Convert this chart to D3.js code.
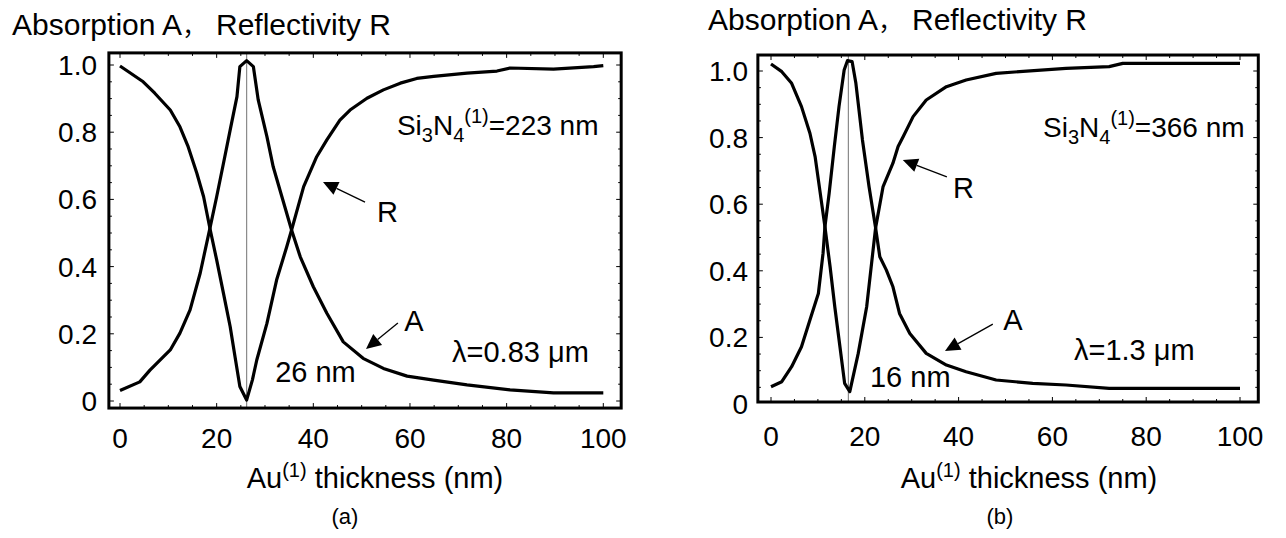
<!DOCTYPE html>
<html>
<head>
<meta charset="utf-8">
<script src="https://cdn.jsdelivr.net/npm/d3@7"></script>
<style>
  html, body { margin: 0; padding: 0; background: #fff; }
  svg { display: block; }
  text { font-family: "Liberation Sans", Arial, sans-serif; fill: #000; }
</style>
</head>
<body>
<svg id="chart" width="1286" height="538"></svg>
<script>
// ---------- data ----------
const xTicks = [0, 20, 40, 60, 80, 100];
const yTicks = [0, 0.2, 0.4, 0.6, 0.8, 1.0];
const yTickLabels = ["0", "0.2", "0.4", "0.6", "0.8", "1.0"];
const xTickLabels = ["0", "20", "40", "60", "80", "100"];

// panel (a): lambda = 0.83 um, Si3N4 = 223 nm
const thickRa = [0, 4.8, 7.2, 10.4, 12.4, 14.1, 15.9, 17.3, 18.6, 20, 21.4, 22.8, 23.8, 24.8, 26.2, 27.4, 28.3, 30.4, 32.4, 34.5, 35.5, 38, 40.7, 42.8, 45.5, 47.6, 51.1, 54.5, 58, 61.4, 64.9, 71.8, 78, 80.7, 89.7, 98, 100];
const reflA   = [0.997, 0.95, 0.916, 0.866, 0.816, 0.757, 0.678, 0.608, 0.514, 0.42, 0.321, 0.221, 0.132, 0.043, 0.003, 0.063, 0.122, 0.231, 0.36, 0.459, 0.509, 0.638, 0.727, 0.777, 0.836, 0.866, 0.901, 0.926, 0.946, 0.96, 0.966, 0.976, 0.982, 0.991, 0.988, 0.995, 0.998];
const thickAa = [0, 4.1, 6.2, 10.4, 12.4, 14.5, 16.6, 18.6, 20, 21.4, 22.8, 24.2, 24.8, 26.2, 27.6, 28.6, 30.4, 31.7, 33.5, 35.5, 37.3, 40, 42.8, 46.2, 50.3, 54.5, 59.4, 64.9, 71.8, 80.7, 89.7, 100];
const absA    = [0.031, 0.057, 0.092, 0.152, 0.202, 0.271, 0.381, 0.514, 0.608, 0.707, 0.807, 0.906, 0.995, 1.013, 0.995, 0.896, 0.787, 0.697, 0.608, 0.509, 0.429, 0.34, 0.261, 0.176, 0.127, 0.097, 0.074, 0.062, 0.048, 0.033, 0.024, 0.024];

// panel (b): lambda = 1.3 um, Si3N4 = 366 nm
const thickRb = [0, 2.3, 4.4, 6.5, 8.3, 9.4, 10.4, 11.5, 12.6, 13.6, 14.7, 15.7, 16.8, 18.6, 20.4, 22.3, 23.9, 26, 27.1, 28.2, 30.3, 33.1, 37.4, 41.6, 48, 62.9, 72.1, 75, 100];
const reflB   = [1.021, 0.998, 0.963, 0.893, 0.813, 0.743, 0.643, 0.532, 0.412, 0.292, 0.172, 0.062, 0.037, 0.152, 0.292, 0.529, 0.653, 0.723, 0.773, 0.803, 0.863, 0.913, 0.953, 0.973, 0.993, 1.008, 1.013, 1.023, 1.023];
const thickAb = [0, 2.3, 4.4, 6.5, 8.3, 10.1, 11.1, 11.5, 12.4, 13.5, 14.5, 15.6, 16.3, 17.3, 18.1, 19.5, 20.9, 22.3, 23.2, 24.6, 26, 27.4, 29.6, 33.1, 37.4, 41.6, 48, 55.8, 62.9, 72.1, 100];
const absB    = [0.052, 0.067, 0.112, 0.172, 0.252, 0.332, 0.453, 0.532, 0.633, 0.773, 0.893, 1.003, 1.031, 1.028, 0.963, 0.793, 0.653, 0.529, 0.442, 0.402, 0.352, 0.272, 0.212, 0.152, 0.117, 0.097, 0.072, 0.062, 0.057, 0.047, 0.047];

// ---------- layout ----------
const panels = [
  {
    xr: [120, 603.3], yr: [401, 65],
    frameX: [-2.3, 103.7], frameY: [-0.021, 1.036],
    peak: 26.2,
    R: {x: thickRa, y: reflA}, A: {x: thickAa, y: absA},
    title: {x: 12, y: 35, x2: 216},
    yLabelX: 97, xLabelY: 448,
    axisTitle: {x: 375, y: 488}, tag: {text: "(a)", x: 345, y: 524},
    si: {x: 57.3, y: 0.792, val: "=223 nm"},
    lam: {x: 68.7, y: 0.116, text: "λ=0.83 μm"},
    nm: {x: 32.1, y: 0.057, text: "26 nm"},
    rLab: {x: 53.2, y: 0.533}, rArrow: [[50.7, 0.592], [42.0, 0.652]],
    aLab: {x: 58.8, y: 0.208}, aArrow: [[57.5, 0.232], [50.9, 0.155]]
  },
  {
    xr: [771, 1240], yr: [404, 71],
    frameX: [-2.8, 103.9], frameY: [0.006, 1.048],
    peak: 16.5,
    R: {x: thickRb, y: reflB}, A: {x: thickAb, y: absB},
    title: {x: 708, y: 30, x2: 912},
    yLabelX: 748, xLabelY: 446,
    axisTitle: {x: 1029, y: 488}, tag: {text: "(b)", x: 1000, y: 524},
    si: {x: 58, y: 0.802, val: "=366 nm"},
    lam: {x: 64.6, y: 0.132, text: "λ=1.3 μm"},
    nm: {x: 21.1, y: 0.051, text: "16 nm"},
    rLab: {x: 38.8, y: 0.619}, rArrow: [[37.5, 0.682], [28.1, 0.733]],
    aLab: {x: 49.5, y: 0.222}, aArrow: [[47.3, 0.24], [37.1, 0.159]]
  }
];

const svg = d3.select("#chart");
const FS = 29;

function arrow(g, x, y, from, to) {
  const x1 = x(from[0]), y1 = y(from[1]), x2 = x(to[0]), y2 = y(to[1]);
  const ang = Math.atan2(y2 - y1, x2 - x1);
  const L = 15, W = 7;
  const bx = x2 - L * Math.cos(ang), by = y2 - L * Math.sin(ang);
  g.append("line").attr("x1", x1).attr("y1", y1).attr("x2", bx).attr("y2", by)
    .attr("stroke", "#000").attr("stroke-width", 1.3);
  const px = -Math.sin(ang) * W, py = Math.cos(ang) * W;
  g.append("path")
    .attr("d", `M${x2},${y2}L${bx + px},${by + py}L${bx - px},${by - py}Z`)
    .attr("fill", "#000");
}

panels.forEach(p => {
  const x = d3.scaleLinear().domain([0, 100]).range(p.xr);
  const y = d3.scaleLinear().domain([0, 1]).range(p.yr);
  const g = svg.append("g");

  const fx0 = x(p.frameX[0]), fx1 = x(p.frameX[1]);
  const fy0 = y(p.frameY[1]), fy1 = y(p.frameY[0]);

  // small tick marks inside frame
  const tickG = g.append("g").attr("stroke", "#000").attr("stroke-width", 1);
  d3.range(0, 101, 5).forEach(v => {
    const len = v % 20 === 0 ? 5 : 3;
    tickG.append("line").attr("x1", x(v)).attr("x2", x(v)).attr("y1", fy1).attr("y2", fy1 - len);
    tickG.append("line").attr("x1", x(v)).attr("x2", x(v)).attr("y1", fy0).attr("y2", fy0 + len);
  });
  d3.range(0, 21).map(i => i * 0.05).forEach((v, i) => {
    if (y(v) < fy0 + 2 || y(v) > fy1 - 2) return;
    const len = i % 4 === 0 ? 5 : 3;
    tickG.append("line").attr("y1", y(v)).attr("y2", y(v)).attr("x1", fx0).attr("x2", fx0 + len);
    tickG.append("line").attr("y1", y(v)).attr("y2", y(v)).attr("x1", fx1).attr("x2", fx1 - len);
  });

  // vertical marker at the absorption peak
  g.append("line").attr("x1", x(p.peak)).attr("x2", x(p.peak))
    .attr("y1", fy0).attr("y2", fy1).attr("stroke", "#8a8a8a").attr("stroke-width", 1.2);

  // curves
  const line = d3.line().x(d => x(d[0])).y(d => y(d[1]));
  [p.R, p.A].forEach(s => {
    g.append("path").datum(s.x.map((v, i) => [v, s.y[i]]))
      .attr("d", line).attr("fill", "none").attr("stroke", "#000")
      .attr("stroke-width", 3.2).attr("stroke-linejoin", "round");
  });

  // frame
  g.append("rect").attr("x", fx0).attr("y", fy0)
    .attr("width", fx1 - fx0).attr("height", fy1 - fy0)
    .attr("fill", "none").attr("stroke", "#000").attr("stroke-width", 3);

  // y tick labels
  yTicks.forEach((v, i) => {
    g.append("text").attr("x", p.yLabelX).attr("y", y(v))
      .attr("dy", "0.36em").attr("text-anchor", "end")
      .attr("font-size", 28).text(yTickLabels[i]);
  });
  // x tick labels
  xTicks.forEach((v, i) => {
    g.append("text").attr("x", x(v)).attr("y", p.xLabelY)
      .attr("text-anchor", "middle").attr("font-size", 28).text(xTickLabels[i]);
  });

  // axis title
  const at = g.append("text").attr("x", p.axisTitle.x).attr("y", p.axisTitle.y)
    .attr("text-anchor", "middle").attr("font-size", FS);
  at.append("tspan").text("Au");
  at.append("tspan").attr("font-size", 20).attr("dy", -11).text("(1)");
  at.append("tspan").attr("dy", 11).text(" thickness (nm)");

  // tag
  g.append("text").attr("x", p.tag.x).attr("y", p.tag.y)
    .attr("text-anchor", "middle").attr("font-size", 22).text(p.tag.text);

  // top title
  const tt = g.append("text").attr("x", p.title.x).attr("y", p.title.y).attr("font-size", 30);
  tt.append("tspan").text("Absorption A");
  tt.append("tspan").attr("font-size", 24)
    .style("font-family", "'Noto Sans CJK SC', sans-serif").text("，");
  tt.append("tspan").attr("x", p.title.x2).text("Reflectivity R");

  // Si3N4 annotation
  const si = g.append("text").attr("x", x(p.si.x)).attr("y", y(p.si.y)).attr("font-size", 28);
  si.append("tspan").text("Si");
  si.append("tspan").attr("font-size", 20).attr("dy", 7).text("3");
  si.append("tspan").attr("dy", -7).text("N");
  si.append("tspan").attr("font-size", 20).attr("dy", 7).text("4");
  si.append("tspan").attr("font-size", 20).attr("dy", -19).text("(1)");
  si.append("tspan").attr("dy", 12).text(p.si.val);

  // lambda
  g.append("text").attr("x", x(p.lam.x)).attr("y", y(p.lam.y))
    .attr("font-size", FS).text(p.lam.text);
  // thickness at peak
  g.append("text").attr("x", x(p.nm.x)).attr("y", y(p.nm.y))
    .attr("font-size", FS).text(p.nm.text);

  // R / A labels and arrows
  g.append("text").attr("x", x(p.rLab.x)).attr("y", y(p.rLab.y)).attr("font-size", FS).text("R");
  g.append("text").attr("x", x(p.aLab.x)).attr("y", y(p.aLab.y)).attr("font-size", FS).text("A");
  arrow(g, x, y, p.rArrow[0], p.rArrow[1]);
  arrow(g, x, y, p.aArrow[0], p.aArrow[1]);
});
</script>
</body>
</html>
